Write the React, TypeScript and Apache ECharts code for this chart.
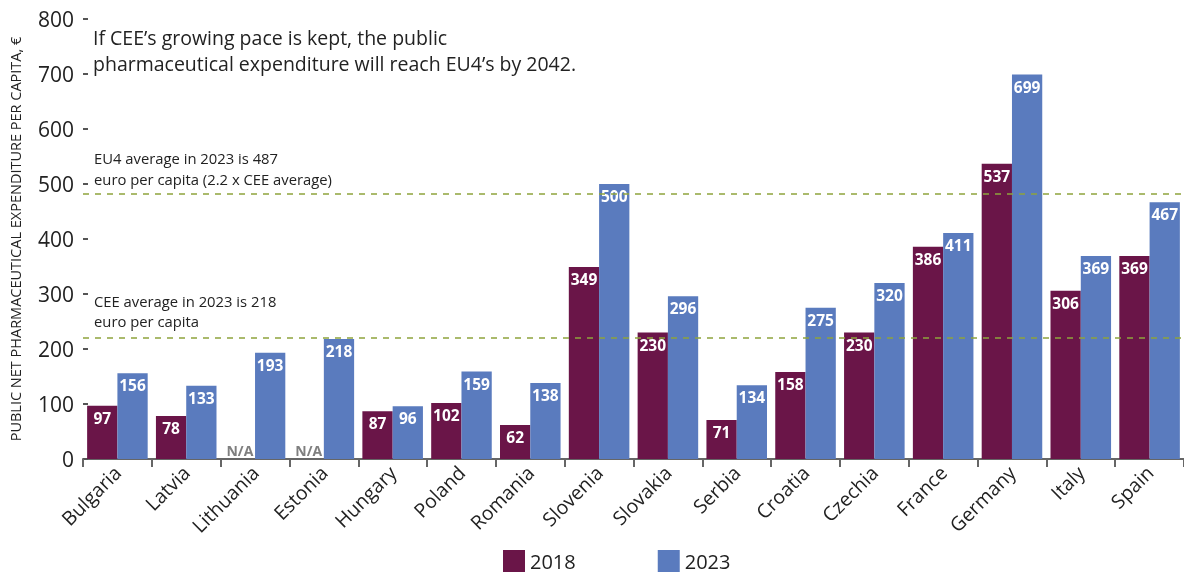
import React, { useEffect, useRef } from "react";
import * as echarts from "echarts";

const categories = ["Bulgaria", "Latvia", "Lithuania", "Estonia", "Hungary", "Poland", "Romania", "Slovenia", "Slovakia", "Serbia", "Croatia", "Czechia", "France", "Germany", "Italy", "Spain"];
const values2018: (number | null)[] = [97, 78, null, null, 87, 102, 62, 349, 230, 71, 158, 230, 386, 537, 306, 369];
const values2023: number[] = [156, 133, 193, 218, 96, 159, 138, 500, 296, 134, 275, 320, 411, 699, 369, 467];
const referenceLines = [482, 220];
const yTicks = { min: 0, max: 800, interval: 100 };
const titleText = "If CEE\u2019s growing pace is kept, the public\npharmaceutical expenditure will reach EU4\u2019s by 2042.";
const eu4Note = "EU4 average in 2023 is 487\neuro per capita (2.2 x CEE average)";
const ceeNote = "CEE average in 2023 is 218\neuro per capita";
const yName = "PUBLIC NET PHARMACEUTICAL EXPENDITURE PER CAPITA, \u20ac";

const C2018 = "#6a1548";
const C2023 = "#5a7bbe";
const FONT = "Open Sans";

export default function App() {
  const ref = useRef<HTMLDivElement>(null);
  useEffect(() => {
    if (!ref.current) return;
    const chart = echarts.init(ref.current, null, { renderer: "svg" });
    const barLabel = {
      show: true,
      position: "insideTop",
      distance: 4,
      color: "#ffffff",
      fontWeight: "bold",
      fontSize: 15.5,
      fontFamily: FONT,
    };
    const data2018 = values2018.map((v) =>
      v === null
        ? { value: 0, label: { show: true, position: "top", distance: 2, formatter: "N/A", color: "#7f7f7f", fontWeight: "bold", fontSize: 14, fontFamily: FONT } }
        : { value: v }
    );
    chart.setOption({
      animation: false,
      textStyle: { fontFamily: FONT },
      grid: { left: 80, right: 0, top: 19, bottom: 118, containLabel: false },
      legend: {
        left: 503,
        top: 550,
        padding: 0,
        itemWidth: 22,
        itemHeight: 22,
        itemGap: 82,
        icon: "rect",
        textStyle: { fontSize: 20, color: "#222", fontFamily: FONT },
        data: ["2018", "2023"],
      },
      xAxis: {
        type: "category",
        data: categories,
        axisLine: { lineStyle: { color: "#666", width: 2 } },
        axisTick: { show: true, length: 8, lineStyle: { color: "#666", width: 2 } },
        axisLabel: { rotate: 45, interval: 0, fontSize: 19.5, color: "#222", margin: 10, fontFamily: FONT },
      },
      yAxis: {
        type: "value",
        min: yTicks.min,
        max: yTicks.max,
        interval: yTicks.interval,
        name: yName,
        nameLocation: "middle",
        nameGap: 60,
        nameTextStyle: { fontSize: 14.5, color: "#222", fontFamily: FONT },
        axisLine: { show: false },
        axisTick: { show: true, inside: true, length: 5, lineStyle: { color: "#555", width: 2 } },
        axisLabel: { fontSize: 21, color: "#222", margin: 9, fontFamily: FONT },
        splitLine: { show: false },
      },
      series: [
        {
          type: "line",
          data: [],
          z: 1,
          silent: true,
          markLine: {
            silent: true,
            symbol: "none",
            label: { show: false },
            lineStyle: { type: [6, 6], color: "#8fa43c", width: 1.5 },
            data: referenceLines.map((v) => ({ yAxis: v })),
          },
        },
        {
          name: "2018",
          type: "bar",
          z: 2,
          data: data2018,
          itemStyle: { color: C2018 },
          barGap: "0%",
          barCategoryGap: "12%",
          label: barLabel,
        },
        {
          name: "2023",
          type: "bar",
          z: 2,
          data: values2023,
          itemStyle: { color: C2023 },
          barGap: "0%",
          barCategoryGap: "12%",
          label: barLabel,
        },
      ],
      graphic: [
        {
          type: "text",
          left: 93,
          top: 24,
          style: { text: titleText, fontSize: 19.5, lineHeight: 26, fill: "#222", fontFamily: FONT },
        },
        {
          type: "text",
          left: 94,
          top: 147,
          style: { text: eu4Note, fontSize: 14.8, lineHeight: 21, fill: "#222", fontFamily: FONT },
        },
        {
          type: "text",
          left: 94,
          top: 291,
          style: { text: ceeNote, fontSize: 14.8, lineHeight: 20, fill: "#222", fontFamily: FONT },
        },
      ],
    });
    return () => chart.dispose();
  }, []);
  return <div ref={ref} style={{ position: "fixed", left: 0, top: 0, width: 1184, height: 577 }} />;
}
